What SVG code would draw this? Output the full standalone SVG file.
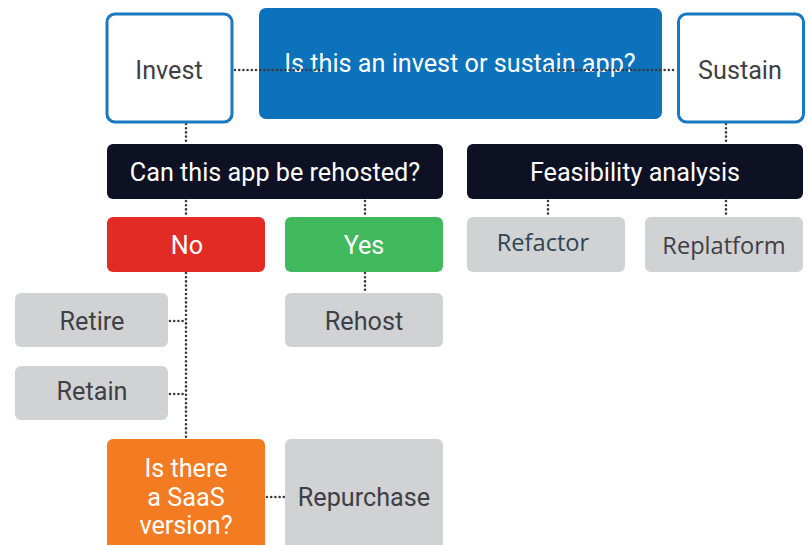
<svg xmlns="http://www.w3.org/2000/svg" width="808" height="545" viewBox="0 0 808 545">
<style>
text{font-family:Roboto,"Liberation Sans",sans-serif;font-size:25.2px;text-anchor:middle}
.w{fill:#ffffff}
.g{fill:#3f4045}
.o{font-family:"Open Sans","Liberation Sans",sans-serif;font-size:23.6px}
.out{fill:#ffffff;stroke:#1a78c2;stroke-width:3}
.gray{fill:#d1d2d4}
.dk{fill:#0e1124}
.dot{fill:none;stroke:#3a3a3a;stroke-width:2.6;stroke-linecap:round;stroke-dasharray:0 4.2}
</style>
<rect width="808" height="545" fill="#ffffff"/>
<g id="n-main">
<rect x="259" y="8" width="403" height="111" rx="7" fill="#0b72bb"/>
<text x="460" y="72" class="w">Is this an invest or sustain app?</text>
</g>
<g id="connectors">
<path class="dot" d="M235 70H327M547 70H676"/>
<path class="dot" d="M186 124V144M726 124V144"/>
<path class="dot" d="M186 201V217M365 201V217"/>
<path class="dot" d="M548 201V217M726 201V217"/>
<path class="dot" d="M365 273V293"/>
<path class="dot" d="M186 273V437"/>
<path class="dot" d="M170 321H186M170 394H186"/>
<path class="dot" d="M267 497H285"/>
</g>
<g id="n-invest">
<rect x="107" y="14" width="125" height="108" rx="8" class="out"/>
<text x="169" y="79" class="g">Invest</text>
</g>
<g id="n-sustain">
<rect x="678.5" y="14" width="125" height="108" rx="8" class="out"/>
<text x="740" y="79" class="g">Sustain</text>
</g>
<g id="n-rehost-q">
<rect x="107" y="144" width="336" height="55" rx="6" class="dk"/>
<text x="275" y="181" class="w">Can this app be rehosted?</text>
</g>
<g id="n-feas">
<rect x="467" y="144" width="336" height="55" rx="6" class="dk"/>
<text x="635" y="181" class="w">Feasibility analysis</text>
</g>
<g id="n-no">
<rect x="107" y="217" width="158" height="55" rx="6" fill="#e32b25"/>
<text x="187" y="254" class="w">No</text>
</g>
<g id="n-yes">
<rect x="285" y="217" width="158" height="55" rx="6" fill="#40b85c"/>
<text x="364" y="254" class="w">Yes</text>
</g>
<g id="n-refactor">
<rect x="467" y="217" width="158" height="55" rx="6" class="gray"/>
<text x="543" y="251" class="o" fill="#2f4555">Refactor</text>
</g>
<g id="n-replatform">
<rect x="645" y="217" width="158" height="55" rx="6" class="gray"/>
<text x="724" y="254" class="o g">Replatform</text>
</g>
<g id="n-retire">
<rect x="15" y="293" width="153" height="54" rx="6" class="gray"/>
<text x="92" y="330" class="g">Retire</text>
</g>
<g id="n-rehost">
<rect x="285" y="293" width="158" height="54" rx="6" class="gray"/>
<text x="364" y="330" class="g">Rehost</text>
</g>
<g id="n-retain">
<rect x="15" y="366" width="153" height="54" rx="6" class="gray"/>
<text x="92" y="400" class="g">Retain</text>
</g>
<g id="n-saas">
<rect x="107" y="439" width="158" height="120" rx="6" fill="#f37b22"/>
<text x="186" y="477" class="w">Is there</text>
<text x="186" y="506" class="w">a SaaS</text>
<text x="186" y="534" class="w">version?</text>
</g>
<g id="n-repurchase">
<rect x="285" y="439" width="158" height="120" rx="6" class="gray"/>
<text x="364" y="506" class="g">Repurchase</text>
</g>
</svg>
